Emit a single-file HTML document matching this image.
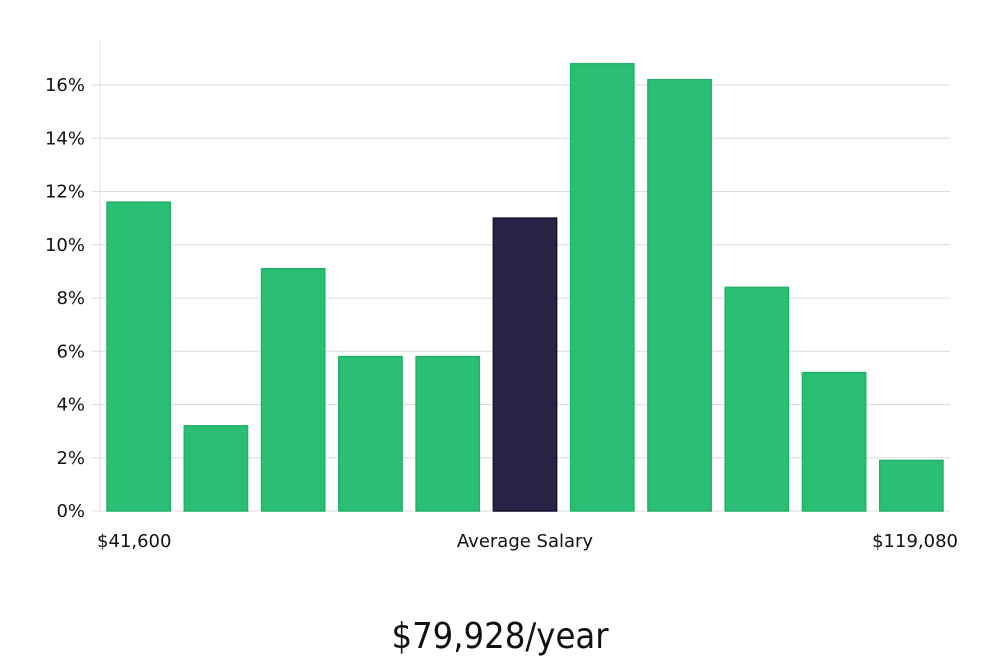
<!DOCTYPE html>
<html><head><meta charset="utf-8"><style>
body{margin:0;background:#fff;width:1000px;height:660px;overflow:hidden;font-family:"DejaVu Sans","Liberation Sans",sans-serif;}
</style></head><body>
<svg id="chart" width="1000" height="660" xmlns="http://www.w3.org/2000/svg">
<g id="grid"></g><g id="bars"></g><g id="yticks"></g>
<text x="97" y="547" font-size="18" fill="#111">$41,600</text>
<text x="525" y="547" font-size="18" fill="#111" text-anchor="middle">Average Salary</text>
<text x="958" y="547" font-size="18" fill="#111" text-anchor="end">$119,080</text>
<text x="500" y="648" font-size="36" fill="#111" text-anchor="middle" font-family="'DejaVu Sans Condensed','DejaVu Sans',sans-serif" font-weight="300">$79,928/year</text>
</svg>
<script>
const values=[11.6,3.2,9.1,5.8,5.8,11.0,16.8,16.2,8.4,5.2,1.9];
const highlight=[0,0,0,0,0,1,0,0,0,0,0];
const yTicks=[0,2,4,6,8,10,12,14,16];
const ns="http://www.w3.org/2000/svg";
const x0=100,x1=950,yBase=511,pxPer=26.625;
const y=v=>yBase-v*pxPer;
const band=(x1-x0)/values.length;
const grid=document.getElementById('grid'),bars=document.getElementById('bars'),yt=document.getElementById('yticks');
const axis=document.createElementNS(ns,'line');


axis.setAttribute('x1',x0);axis.setAttribute('x2',x0);axis.setAttribute('y1',40);axis.setAttribute('y2',yBase);axis.setAttribute('stroke','#ddd');
grid.appendChild(axis);
yTicks.forEach(t=>{
 const l=document.createElementNS(ns,'line');
 
 
 l.setAttribute('x1',x0-8);l.setAttribute('x2',x1);l.setAttribute('y1',y(t));l.setAttribute('y2',y(t));l.setAttribute('stroke','#dcdcdc');
 grid.appendChild(l);
 const tx=document.createElementNS(ns,'text');
 
 
 tx.setAttribute('x',85);tx.setAttribute('y',y(t)+6);tx.setAttribute('text-anchor','end');tx.setAttribute('font-size','18');tx.setAttribute('fill','#111');
 tx.textContent=t+'%';yt.appendChild(tx);
});
values.forEach((v,i)=>{
 const r=document.createElementNS(ns,'rect');
 
 
 const bx=x0+i*band+7;
 r.setAttribute('x',bx);r.setAttribute('y',y(v));r.setAttribute('width',band-14);r.setAttribute('height',v*pxPer);
 r.setAttribute('fill',highlight[i]?'#282446':'#2bbf76');
 r.setAttribute('stroke',highlight[i]?'#15122b':'#22b16a');r.setAttribute('stroke-width','1.5');
 bars.appendChild(r);
});
</script>
</body></html>
